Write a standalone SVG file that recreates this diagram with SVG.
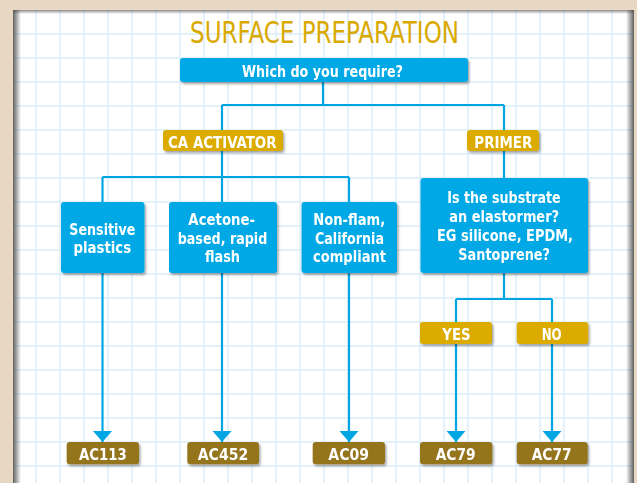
<svg xmlns="http://www.w3.org/2000/svg" width="637" height="483" viewBox="0 0 637 483">
  <defs>
    <style>
      .t { font-family: "Liberation Sans Narrow", "DejaVu Sans Condensed", "Liberation Sans", sans-serif; font-stretch: condensed; font-weight: bold; fill: #ffffff; text-anchor: middle; }
      .blue { fill: #00a9e6; }
      .gold { fill: #dcab00; }
      .brown { fill: #94741f; }
      .grid line { stroke: #d9ecf9; stroke-width: 1.4; }
      .conn { stroke: #00a6e4; stroke-width: 2.2; fill: none; }
    </style>
    <filter id="sh" x="-10%" y="-20%" width="130%" height="150%">
      <feDropShadow dx="1.5" dy="2" stdDeviation="1.2" flood-color="#000" flood-opacity="0.35"/>
    </filter>
    <linearGradient id="gl" x1="0" y1="0" x2="1" y2="0">
      <stop offset="0" stop-color="#444" stop-opacity="0.85"/>
      <stop offset="1" stop-color="#444" stop-opacity="0"/>
    </linearGradient>
    <linearGradient id="gr" x1="1" y1="0" x2="0" y2="0">
      <stop offset="0" stop-color="#444" stop-opacity="0.85"/>
      <stop offset="1" stop-color="#444" stop-opacity="0"/>
    </linearGradient>
    <linearGradient id="gt" x1="0" y1="0" x2="0" y2="1">
      <stop offset="0" stop-color="#444" stop-opacity="0.6"/>
      <stop offset="1" stop-color="#444" stop-opacity="0"/>
    </linearGradient>
    <marker id="arr" markerUnits="userSpaceOnUse" markerWidth="12" markerHeight="20" refX="11" refY="9.5" orient="auto" viewBox="0 0 12 20">
      <path d="M0,0 L11,9.5 L0,19 Z" fill="#00a6e4"/>
    </marker>
  </defs>

  <!-- background -->
  <rect x="0" y="0" width="637" height="483" fill="#e8d8c3"/>
  <rect x="13" y="10" width="621" height="480" fill="#ffffff"/>
  <g class="grid">
    <line x1="36" y1="10" x2="36" y2="483"/><line x1="60" y1="10" x2="60" y2="483"/><line x1="84" y1="10" x2="84" y2="483"/><line x1="108" y1="10" x2="108" y2="483"/><line x1="132" y1="10" x2="132" y2="483"/><line x1="156" y1="10" x2="156" y2="483"/><line x1="180" y1="10" x2="180" y2="483"/><line x1="204" y1="10" x2="204" y2="483"/><line x1="228" y1="10" x2="228" y2="483"/><line x1="252" y1="10" x2="252" y2="483"/><line x1="276" y1="10" x2="276" y2="483"/><line x1="300" y1="10" x2="300" y2="483"/><line x1="324" y1="10" x2="324" y2="483"/><line x1="348" y1="10" x2="348" y2="483"/><line x1="372" y1="10" x2="372" y2="483"/><line x1="396" y1="10" x2="396" y2="483"/><line x1="420" y1="10" x2="420" y2="483"/><line x1="444" y1="10" x2="444" y2="483"/><line x1="468" y1="10" x2="468" y2="483"/><line x1="492" y1="10" x2="492" y2="483"/><line x1="516" y1="10" x2="516" y2="483"/><line x1="540" y1="10" x2="540" y2="483"/><line x1="564" y1="10" x2="564" y2="483"/><line x1="588" y1="10" x2="588" y2="483"/><line x1="612" y1="10" x2="612" y2="483"/>
    <line x1="13" y1="34" x2="634" y2="34"/><line x1="13" y1="58" x2="634" y2="58"/><line x1="13" y1="82" x2="634" y2="82"/><line x1="13" y1="106" x2="634" y2="106"/><line x1="13" y1="130" x2="634" y2="130"/><line x1="13" y1="154" x2="634" y2="154"/><line x1="13" y1="178" x2="634" y2="178"/><line x1="13" y1="202" x2="634" y2="202"/><line x1="13" y1="226" x2="634" y2="226"/><line x1="13" y1="250" x2="634" y2="250"/><line x1="13" y1="274" x2="634" y2="274"/><line x1="13" y1="298" x2="634" y2="298"/><line x1="13" y1="322" x2="634" y2="322"/><line x1="13" y1="346" x2="634" y2="346"/><line x1="13" y1="370" x2="634" y2="370"/><line x1="13" y1="394" x2="634" y2="394"/><line x1="13" y1="418" x2="634" y2="418"/><line x1="13" y1="442" x2="634" y2="442"/><line x1="13" y1="466" x2="634" y2="466"/>
  </g>
  <rect x="13" y="10" width="8" height="473" fill="url(#gl)"/>
  <rect x="626" y="10" width="8" height="473" fill="url(#gr)"/>
  <rect x="13" y="10" width="621" height="4" fill="url(#gt)"/>

  <!-- title -->
  <text x="324.5" y="42.5" font-family="'Liberation Sans Narrow', 'DejaVu Sans Condensed', 'Liberation Sans', sans-serif" font-stretch="condensed" font-size="30" fill="#d9a900" text-anchor="middle" textLength="269" lengthAdjust="spacingAndGlyphs">SURFACE PREPARATION</text>

  <!-- connectors -->
  <g id="connectors" class="conn">
    <path d="M323,82 V105"/>
    <path d="M222,105 H504"/>
    <path d="M222,105 V202"/>
    <path d="M504,105 V178"/>
    <path d="M102.5,177 H349"/>
    <path d="M102.5,177 V202"/>
    <path d="M349,177 V202"/>
    <path d="M504,273 V299"/>
    <path d="M456,299 H552"/>
    <path d="M102.5,273 V442" marker-end="url(#arr)"/>
    <path d="M222,273 V442" marker-end="url(#arr)"/>
    <path d="M349,273 V442" marker-end="url(#arr)"/>
    <path d="M456,299 V442" marker-end="url(#arr)"/>
    <path d="M552,299 V442" marker-end="url(#arr)"/>
  </g>

  <!-- nodes -->
  <g id="n-which" filter="url(#sh)">
    <rect class="blue" x="180" y="58" width="288" height="24" rx="3"/>
    <text class="t" x="322.5" y="76.5" font-size="16.5" textLength="161" lengthAdjust="spacingAndGlyphs">Which do you require?</text>
  </g>
  <g id="n-ca" filter="url(#sh)">
    <rect class="gold" x="163" y="130" width="120" height="21" rx="3"/>
    <text class="t" x="222.3" y="147.5" font-size="16" textLength="108.5" lengthAdjust="spacingAndGlyphs">CA ACTIVATOR</text>
  </g>
  <g id="n-primer" filter="url(#sh)">
    <rect class="gold" x="467" y="130" width="72" height="21" rx="3"/>
    <text class="t" x="503.3" y="147.5" font-size="16" textLength="58" lengthAdjust="spacingAndGlyphs">PRIMER</text>
  </g>
  <g id="n-sensitive" filter="url(#sh)">
    <rect class="blue" x="61" y="202" width="83.5" height="71" rx="3"/>
    <text class="t" x="102.3" y="235" font-size="15.5" textLength="66" lengthAdjust="spacingAndGlyphs">Sensitive</text>
    <text class="t" x="102.3" y="253" font-size="15.5" textLength="57.7" lengthAdjust="spacingAndGlyphs">plastics</text>
  </g>
  <g id="n-acetone" filter="url(#sh)">
    <rect class="blue" x="169" y="202" width="108" height="71" rx="3"/>
    <text class="t" x="221.7" y="225" font-size="15.5" textLength="66.7" lengthAdjust="spacingAndGlyphs">Acetone-</text>
    <text class="t" x="222.5" y="243.5" font-size="15.5" textLength="89.6" lengthAdjust="spacingAndGlyphs">based, rapid</text>
    <text class="t" x="222.5" y="262" font-size="15.5" textLength="35" lengthAdjust="spacingAndGlyphs">flash</text>
  </g>
  <g id="n-nonflam" filter="url(#sh)">
    <rect class="blue" x="301.5" y="202" width="95.5" height="71" rx="3"/>
    <text class="t" x="349.2" y="225" font-size="15.5" textLength="72" lengthAdjust="spacingAndGlyphs">Non-flam,</text>
    <text class="t" x="349.5" y="243.5" font-size="15.5" textLength="69" lengthAdjust="spacingAndGlyphs">California</text>
    <text class="t" x="349.5" y="262" font-size="15.5" textLength="73" lengthAdjust="spacingAndGlyphs">compliant</text>
  </g>
  <g id="n-substrate" filter="url(#sh)">
    <rect class="blue" x="420.5" y="178" width="167.5" height="95" rx="3"/>
    <text class="t" x="504" y="202.7" font-size="16" textLength="113.4" lengthAdjust="spacingAndGlyphs">Is the substrate</text>
    <text class="t" x="504.2" y="221.7" font-size="16" textLength="109.7" lengthAdjust="spacingAndGlyphs">an elastormer?</text>
    <text class="t" x="505" y="241" font-size="16" textLength="136" lengthAdjust="spacingAndGlyphs">EG silicone, EPDM,</text>
    <text class="t" x="504.2" y="260" font-size="16" textLength="91.7" lengthAdjust="spacingAndGlyphs">Santoprene?</text>
  </g>
  <g id="n-yes" filter="url(#sh)">
    <rect class="gold" x="420" y="322" width="72" height="22" rx="3"/>
    <text class="t" x="456.5" y="340" font-size="16" textLength="28.4" lengthAdjust="spacingAndGlyphs">YES</text>
  </g>
  <g id="n-no" filter="url(#sh)">
    <rect class="gold" x="516.7" y="322" width="71.6" height="22" rx="3"/>
    <text class="t" x="551.7" y="340" font-size="16" textLength="20" lengthAdjust="spacingAndGlyphs">NO</text>
  </g>
  <g id="n-ac113" filter="url(#sh)">
    <rect class="brown" x="66.7" y="442" width="72.3" height="22.3" rx="3"/>
    <text class="t" x="102.8" y="460" font-size="16" textLength="47.7" lengthAdjust="spacingAndGlyphs">AC113</text>
  </g>
  <g id="n-ac452" filter="url(#sh)">
    <rect class="brown" x="187.3" y="442" width="71.7" height="22.3" rx="3"/>
    <text class="t" x="223" y="460" font-size="16" textLength="50.6" lengthAdjust="spacingAndGlyphs">AC452</text>
  </g>
  <g id="n-ac09" filter="url(#sh)">
    <rect class="brown" x="312.7" y="442" width="72.3" height="22.3" rx="3"/>
    <text class="t" x="348.7" y="460" font-size="16" textLength="40.7" lengthAdjust="spacingAndGlyphs">AC09</text>
  </g>
  <g id="n-ac79" filter="url(#sh)">
    <rect class="brown" x="420" y="442" width="72.3" height="22.3" rx="3"/>
    <text class="t" x="455.7" y="460" font-size="16" textLength="40" lengthAdjust="spacingAndGlyphs">AC79</text>
  </g>
  <g id="n-ac77" filter="url(#sh)">
    <rect class="brown" x="516.7" y="442" width="71" height="22.3" rx="3"/>
    <text class="t" x="551.7" y="460" font-size="16" textLength="40" lengthAdjust="spacingAndGlyphs">AC77</text>
  </g>
</svg>
